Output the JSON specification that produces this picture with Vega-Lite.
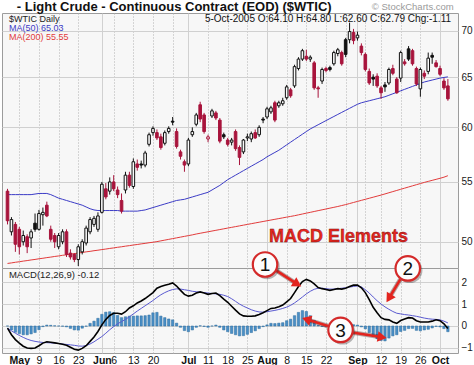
{
"$schema":"https://vega.github.io/schema/vega-lite/v6.json",
"background":"#ffffff",
"padding":{"left":1,"top":0,"right":0,"bottom":0},
"spacing":0,
"bounds":"flush",
"config":{
 "font":"Liberation Sans Narrow, Liberation Sans, sans-serif",
 "view":{"stroke":"#9c9c9c","strokeWidth":1,"fill":"#f7f7f7"},
 "axis":{"labelFont":"Liberation Sans Narrow, Liberation Sans, sans-serif","domain":false,"ticks":false,"labelColor":"#1a1a1a","gridColor":"#d0d0d0","gridWidth":1,"gridOpacity":1}
},
"datasets":{"px":[
{"t":-3,"d":"2005-04-27","o":54.2,"h":54.4,"l":51.4,"c":51.7,"m50":53.9,"m200":48.30,"macd":-0.10,"sig":-0.10,"hist":0.00},
{"t":-2,"d":"2005-04-28","o":50.8,"h":52.0,"l":50.5,"c":51.8,"m50":53.9,"m200":48.34,"macd":-0.40,"sig":-0.22,"hist":-0.18},
{"t":-1,"d":"2005-04-29","o":51.4,"h":51.6,"l":49.2,"c":49.8,"m50":53.9,"m200":48.39,"macd":-0.62,"sig":-0.33,"hist":-0.29},
{"t":0,"d":"2005-05-02","o":51.0,"h":51.2,"l":49.0,"c":49.6,"m50":53.9,"m200":48.43,"macd":-0.78,"sig":-0.43,"hist":-0.35},
{"t":1,"d":"2005-05-03","o":50.0,"h":50.9,"l":49.7,"c":50.5,"m50":53.9,"m200":48.48,"macd":-0.92,"sig":-0.52,"hist":-0.40},
{"t":2,"d":"2005-05-04","o":50.4,"h":50.6,"l":49.1,"c":49.6,"m50":53.9,"m200":48.52,"macd":-1.00,"sig":-0.60,"hist":-0.40},
{"t":3,"d":"2005-05-05","o":50.3,"h":51.0,"l":49.5,"c":50.8,"m50":53.9,"m200":48.57,"macd":-1.02,"sig":-0.66,"hist":-0.36},
{"t":4,"d":"2005-05-06","o":51.5,"h":52.3,"l":50.8,"c":51.0,"m50":53.95,"m200":48.61,"macd":-1.00,"sig":-0.70,"hist":-0.30},
{"t":5,"d":"2005-05-09","o":51.0,"h":52.6,"l":50.9,"c":52.3,"m50":54.0,"m200":48.66,"macd":-0.90,"sig":-0.73,"hist":-0.17},
{"t":6,"d":"2005-05-10","o":52.2,"h":52.8,"l":51.3,"c":52.4,"m50":54.0,"m200":48.70,"macd":-0.78,"sig":-0.75,"hist":-0.03},
{"t":7,"d":"2005-05-11","o":53.0,"h":53.3,"l":52.0,"c":52.1,"m50":54.0,"m200":48.75,"macd":-0.72,"sig":-0.76,"hist":0.04},
{"t":8,"d":"2005-05-12","o":51.0,"h":51.3,"l":50.0,"c":50.2,"m50":53.9,"m200":48.79,"macd":-0.74,"sig":-0.77,"hist":0.03},
{"t":9,"d":"2005-05-13","o":50.5,"h":50.7,"l":49.5,"c":50.0,"m50":53.75,"m200":48.84,"macd":-0.77,"sig":-0.78,"hist":0.01},
{"t":10,"d":"2005-05-16","o":49.6,"h":50.7,"l":49.4,"c":50.5,"m50":53.6,"m200":48.88,"macd":-0.80,"sig":-0.80,"hist":0.00},
{"t":11,"d":"2005-05-17","o":50.0,"h":51.0,"l":49.8,"c":50.8,"m50":53.5,"m200":48.93,"macd":-0.83,"sig":-0.82,"hist":-0.01},
{"t":12,"d":"2005-05-18","o":50.8,"h":51.0,"l":48.8,"c":49.0,"m50":53.4,"m200":48.97,"macd":-0.88,"sig":-0.84,"hist":-0.04},
{"t":13,"d":"2005-05-19","o":49.1,"h":49.4,"l":48.6,"c":48.8,"m50":53.3,"m200":49.02,"macd":-0.97,"sig":-0.86,"hist":-0.11},
{"t":14,"d":"2005-05-20","o":49.0,"h":49.1,"l":48.4,"c":48.6,"m50":53.2,"m200":49.06,"macd":-1.06,"sig":-0.88,"hist":-0.18},
{"t":15,"d":"2005-05-23","o":48.6,"h":49.8,"l":48.1,"c":49.6,"m50":53.1,"m200":49.11,"macd":-1.10,"sig":-0.91,"hist":-0.19},
{"t":16,"d":"2005-05-24","o":49.2,"h":50.2,"l":49.0,"c":50.0,"m50":53.0,"m200":49.15,"macd":-1.02,"sig":-0.92,"hist":-0.10},
{"t":17,"d":"2005-05-25","o":49.9,"h":51.3,"l":49.7,"c":51.1,"m50":52.85,"m200":49.20,"macd":-0.90,"sig":-0.89,"hist":-0.01},
{"t":18,"d":"2005-05-26","o":50.8,"h":52.0,"l":50.6,"c":51.8,"m50":52.7,"m200":49.24,"macd":-0.70,"sig":-0.82,"hist":0.12},
{"t":19,"d":"2005-05-27","o":51.4,"h":52.1,"l":51.2,"c":51.9,"m50":52.6,"m200":49.29,"macd":-0.50,"sig":-0.72,"hist":0.22},
{"t":20,"d":"2005-05-31","o":51.0,"h":52.4,"l":50.8,"c":52.1,"m50":52.55,"m200":49.33,"macd":-0.25,"sig":-0.60,"hist":0.35},
{"t":21,"d":"2005-06-01","o":52.4,"h":55.0,"l":52.3,"c":54.8,"m50":52.55,"m200":49.38,"macd":0.05,"sig":-0.48,"hist":0.53},
{"t":22,"d":"2005-06-02","o":54.4,"h":54.9,"l":53.5,"c":53.7,"m50":52.55,"m200":49.42,"macd":0.30,"sig":-0.33,"hist":0.63},
{"t":23,"d":"2005-06-03","o":54.2,"h":55.4,"l":53.9,"c":55.0,"m50":52.55,"m200":49.47,"macd":0.48,"sig":-0.17,"hist":0.65},
{"t":24,"d":"2005-06-06","o":55.0,"h":55.6,"l":54.2,"c":54.4,"m50":52.55,"m200":49.51,"macd":0.58,"sig":-0.03,"hist":0.61},
{"t":25,"d":"2005-06-07","o":54.3,"h":54.6,"l":53.6,"c":53.9,"m50":52.55,"m200":49.56,"macd":0.58,"sig":0.10,"hist":0.48},
{"t":26,"d":"2005-06-08","o":53.4,"h":54.0,"l":52.3,"c":52.5,"m50":52.5,"m200":49.60,"macd":0.54,"sig":0.20,"hist":0.38},
{"t":27,"d":"2005-06-09","o":54.3,"h":55.9,"l":54.0,"c":55.6,"m50":52.5,"m200":49.65,"macd":0.65,"sig":0.30,"hist":0.42},
{"t":28,"d":"2005-06-10","o":55.6,"h":55.9,"l":54.5,"c":54.7,"m50":52.5,"m200":49.69,"macd":0.82,"sig":0.42,"hist":0.45},
{"t":29,"d":"2005-06-13","o":54.6,"h":57.1,"l":54.4,"c":56.8,"m50":52.5,"m200":49.74,"macd":0.92,"sig":0.55,"hist":0.45},
{"t":30,"d":"2005-06-14","o":56.6,"h":57.0,"l":56.0,"c":56.3,"m50":52.5,"m200":49.78,"macd":1.05,"sig":0.68,"hist":0.46},
{"t":31,"d":"2005-06-15","o":56.6,"h":56.9,"l":56.2,"c":56.5,"m50":52.55,"m200":49.83,"macd":1.14,"sig":0.80,"hist":0.46},
{"t":32,"d":"2005-06-16","o":56.5,"h":57.8,"l":56.3,"c":57.6,"m50":52.6,"m200":49.87,"macd":1.25,"sig":0.92,"hist":0.47},
{"t":33,"d":"2005-06-17","o":58.4,"h":59.5,"l":58.2,"c":59.3,"m50":52.7,"m200":49.92,"macd":1.38,"sig":1.04,"hist":0.50},
{"t":34,"d":"2005-06-20","o":59.5,"h":60.1,"l":59.2,"c":59.9,"m50":52.8,"m200":49.96,"macd":1.52,"sig":1.16,"hist":0.60},
{"t":35,"d":"2005-06-21","o":59.5,"h":59.8,"l":58.8,"c":59.0,"m50":52.9,"m200":50.01,"macd":1.72,"sig":1.30,"hist":0.62},
{"t":36,"d":"2005-06-22","o":59.1,"h":59.4,"l":57.9,"c":58.1,"m50":53.0,"m200":50.07,"macd":1.80,"sig":1.42,"hist":0.45},
{"t":37,"d":"2005-06-23","o":58.5,"h":59.7,"l":58.3,"c":59.5,"m50":53.1,"m200":50.13,"macd":1.85,"sig":1.52,"hist":0.38},
{"t":38,"d":"2005-06-24","o":59.6,"h":60.1,"l":59.4,"c":59.9,"m50":53.2,"m200":50.19,"macd":1.90,"sig":1.60,"hist":0.32},
{"t":39,"d":"2005-06-27","o":60.6,"h":61.0,"l":60.2,"c":60.5,"m50":53.3,"m200":50.25,"macd":1.96,"sig":1.66,"hist":0.28},
{"t":40,"d":"2005-06-28","o":59.6,"h":59.9,"l":58.0,"c":58.2,"m50":53.4,"m200":50.31,"macd":1.82,"sig":1.69,"hist":0.13},
{"t":41,"d":"2005-06-29","o":57.7,"h":57.9,"l":57.0,"c":57.3,"m50":53.45,"m200":50.37,"macd":1.62,"sig":1.68,"hist":-0.06},
{"t":42,"d":"2005-06-30","o":56.8,"h":57.0,"l":55.9,"c":56.5,"m50":53.5,"m200":50.43,"macd":1.44,"sig":1.65,"hist":-0.21},
{"t":43,"d":"2005-07-01","o":56.6,"h":59.0,"l":56.4,"c":58.8,"m50":53.6,"m200":50.49,"macd":1.36,"sig":1.62,"hist":-0.26},
{"t":44,"d":"2005-07-05","o":59.3,"h":60.0,"l":59.1,"c":59.6,"m50":53.7,"m200":50.55,"macd":1.40,"sig":1.58,"hist":-0.18},
{"t":45,"d":"2005-07-06","o":60.3,"h":61.4,"l":60.1,"c":61.2,"m50":53.8,"m200":50.62,"macd":1.50,"sig":1.56,"hist":-0.06},
{"t":46,"d":"2005-07-07","o":62.2,"h":62.5,"l":60.5,"c":60.8,"m50":53.9,"m200":50.68,"macd":1.55,"sig":1.54,"hist":0.01},
{"t":47,"d":"2005-07-08","o":61.2,"h":61.4,"l":59.4,"c":59.6,"m50":54.0,"m200":50.74,"macd":1.50,"sig":1.52,"hist":-0.02},
{"t":48,"d":"2005-07-11","o":58.9,"h":59.3,"l":58.6,"c":59.1,"m50":54.1,"m200":50.80,"macd":1.44,"sig":1.50,"hist":-0.06},
{"t":49,"d":"2005-07-12","o":61.1,"h":61.8,"l":60.9,"c":61.6,"m50":54.3,"m200":50.86,"macd":1.48,"sig":1.48,"hist":0.00},
{"t":50,"d":"2005-07-13","o":61.4,"h":61.6,"l":60.7,"c":60.9,"m50":54.5,"m200":50.92,"macd":1.50,"sig":1.46,"hist":0.04},
{"t":51,"d":"2005-07-14","o":60.7,"h":60.9,"l":58.5,"c":58.7,"m50":54.7,"m200":50.98,"macd":1.38,"sig":1.44,"hist":-0.06},
{"t":52,"d":"2005-07-15","o":59.3,"h":59.5,"l":58.9,"c":59.1,"m50":54.95,"m200":51.04,"macd":1.22,"sig":1.40,"hist":-0.18},
{"t":53,"d":"2005-07-18","o":58.8,"h":59.0,"l":58.2,"c":58.4,"m50":55.2,"m200":51.10,"macd":1.08,"sig":1.34,"hist":-0.26},
{"t":54,"d":"2005-07-19","o":58.6,"h":59.0,"l":58.3,"c":58.8,"m50":55.4,"m200":51.16,"macd":0.90,"sig":1.24,"hist":-0.34},
{"t":55,"d":"2005-07-20","o":59.6,"h":59.8,"l":57.8,"c":58.0,"m50":55.6,"m200":51.22,"macd":0.72,"sig":1.12,"hist":-0.40},
{"t":56,"d":"2005-07-21","o":58.1,"h":58.3,"l":56.5,"c":57.2,"m50":55.8,"m200":51.28,"macd":0.55,"sig":1.00,"hist":-0.45},
{"t":57,"d":"2005-07-22","o":57.7,"h":58.9,"l":57.5,"c":58.8,"m50":56.0,"m200":51.34,"macd":0.46,"sig":0.90,"hist":-0.44},
{"t":58,"d":"2005-07-25","o":59.0,"h":59.4,"l":58.7,"c":59.1,"m50":56.2,"m200":51.40,"macd":0.44,"sig":0.82,"hist":-0.38},
{"t":59,"d":"2005-07-26","o":58.9,"h":59.6,"l":58.6,"c":59.4,"m50":56.4,"m200":51.46,"macd":0.44,"sig":0.74,"hist":-0.30},
{"t":60,"d":"2005-07-27","o":59.5,"h":59.8,"l":58.9,"c":59.0,"m50":56.6,"m200":51.52,"macd":0.46,"sig":0.68,"hist":-0.22},
{"t":61,"d":"2005-07-28","o":59.3,"h":60.2,"l":59.1,"c":60.0,"m50":56.8,"m200":51.58,"macd":0.52,"sig":0.64,"hist":-0.12},
{"t":62,"d":"2005-07-29","o":60.8,"h":61.0,"l":60.4,"c":60.7,"m50":57.0,"m200":51.64,"macd":0.60,"sig":0.63,"hist":-0.03},
{"t":63,"d":"2005-08-01","o":61.0,"h":62.0,"l":60.8,"c":61.8,"m50":57.25,"m200":51.70,"macd":0.70,"sig":0.65,"hist":0.05},
{"t":64,"d":"2005-08-02","o":61.5,"h":62.1,"l":61.3,"c":61.9,"m50":57.45,"m200":51.76,"macd":0.80,"sig":0.68,"hist":0.12},
{"t":65,"d":"2005-08-03","o":62.4,"h":62.6,"l":60.5,"c":60.7,"m50":57.65,"m200":51.82,"macd":0.82,"sig":0.71,"hist":0.11},
{"t":66,"d":"2005-08-04","o":62.1,"h":62.6,"l":61.9,"c":62.4,"m50":57.85,"m200":51.88,"macd":0.88,"sig":0.75,"hist":0.13},
{"t":67,"d":"2005-08-05","o":62.3,"h":62.9,"l":62.1,"c":62.6,"m50":58.1,"m200":51.94,"macd":0.95,"sig":0.80,"hist":0.15},
{"t":68,"d":"2005-08-08","o":62.9,"h":64.2,"l":62.7,"c":64.0,"m50":58.35,"m200":52.00,"macd":1.10,"sig":0.86,"hist":0.24},
{"t":69,"d":"2005-08-09","o":63.7,"h":63.9,"l":62.9,"c":63.1,"m50":58.6,"m200":52.06,"macd":1.25,"sig":0.94,"hist":0.31},
{"t":70,"d":"2005-08-10","o":64.1,"h":66.3,"l":63.9,"c":66.1,"m50":58.85,"m200":52.12,"macd":1.52,"sig":1.05,"hist":0.47},
{"t":71,"d":"2005-08-11","o":65.9,"h":67.1,"l":65.7,"c":66.9,"m50":59.1,"m200":52.19,"macd":1.80,"sig":1.18,"hist":0.62},
{"t":72,"d":"2005-08-12","o":66.9,"h":68.0,"l":66.7,"c":67.8,"m50":59.35,"m200":52.26,"macd":2.02,"sig":1.32,"hist":0.70},
{"t":73,"d":"2005-08-15","o":67.2,"h":67.9,"l":66.7,"c":66.9,"m50":59.6,"m200":52.33,"macd":2.12,"sig":1.46,"hist":0.66},
{"t":74,"d":"2005-08-16","o":66.9,"h":67.3,"l":66.6,"c":67.1,"m50":59.85,"m200":52.40,"macd":2.05,"sig":1.58,"hist":0.47},
{"t":75,"d":"2005-08-17","o":66.5,"h":66.7,"l":63.7,"c":63.9,"m50":60.05,"m200":52.47,"macd":1.92,"sig":1.67,"hist":0.25},
{"t":76,"d":"2005-08-18","o":63.9,"h":64.1,"l":62.9,"c":63.8,"m50":60.25,"m200":52.54,"macd":1.75,"sig":1.72,"hist":0.03},
{"t":77,"d":"2005-08-19","o":64.6,"h":66.0,"l":64.3,"c":65.8,"m50":60.45,"m200":52.61,"macd":1.70,"sig":1.72,"hist":-0.02},
{"t":78,"d":"2005-08-22","o":65.9,"h":66.1,"l":65.5,"c":65.7,"m50":60.65,"m200":52.68,"macd":1.66,"sig":1.70,"hist":-0.04},
{"t":79,"d":"2005-08-23","o":66.0,"h":66.2,"l":65.6,"c":65.8,"m50":60.85,"m200":52.75,"macd":1.62,"sig":1.68,"hist":-0.06},
{"t":80,"d":"2005-08-24","o":66.4,"h":67.8,"l":66.2,"c":67.6,"m50":61.05,"m200":52.82,"macd":1.66,"sig":1.68,"hist":-0.02},
{"t":81,"d":"2005-08-25","o":67.5,"h":68.1,"l":67.2,"c":67.9,"m50":61.25,"m200":52.89,"macd":1.70,"sig":1.70,"hist":0.00},
{"t":82,"d":"2005-08-26","o":67.6,"h":67.8,"l":66.2,"c":66.4,"m50":61.45,"m200":52.97,"macd":1.68,"sig":1.72,"hist":-0.04},
{"t":83,"d":"2005-08-29","o":69.0,"h":69.2,"l":67.1,"c":67.4,"m50":61.65,"m200":53.05,"macd":1.72,"sig":1.74,"hist":-0.02},
{"t":84,"d":"2005-08-30","o":69.0,"h":70.9,"l":68.6,"c":69.9,"m50":61.85,"m200":53.14,"macd":1.80,"sig":1.77,"hist":0.03},
{"t":85,"d":"2005-08-31","o":69.8,"h":70.2,"l":68.5,"c":68.9,"m50":62.05,"m200":53.23,"macd":1.86,"sig":1.80,"hist":0.06},
{"t":86,"d":"2005-09-01","o":69.2,"h":69.9,"l":68.9,"c":69.5,"m50":62.25,"m200":53.32,"macd":1.86,"sig":1.82,"hist":0.04},
{"t":87,"d":"2005-09-02","o":68.3,"h":68.6,"l":67.3,"c":67.6,"m50":62.4,"m200":53.41,"macd":1.74,"sig":1.78,"hist":-0.04},
{"t":88,"d":"2005-09-06","o":67.4,"h":67.6,"l":65.6,"c":65.8,"m50":62.5,"m200":53.50,"macd":1.52,"sig":1.65,"hist":-0.13},
{"t":89,"d":"2005-09-07","o":65.6,"h":65.9,"l":64.2,"c":64.4,"m50":62.6,"m200":53.59,"macd":1.20,"sig":1.50,"hist":-0.30},
{"t":90,"d":"2005-09-08","o":65.0,"h":65.3,"l":64.1,"c":64.8,"m50":62.7,"m200":53.68,"macd":0.85,"sig":1.32,"hist":-0.47},
{"t":91,"d":"2005-09-09","o":65.1,"h":65.4,"l":63.9,"c":64.1,"m50":62.8,"m200":53.77,"macd":0.60,"sig":1.15,"hist":-0.58},
{"t":92,"d":"2005-09-12","o":63.9,"h":64.1,"l":62.8,"c":63.4,"m50":62.9,"m200":53.86,"macd":0.38,"sig":1.00,"hist":-0.66},
{"t":93,"d":"2005-09-13","o":64.2,"h":64.5,"l":63.5,"c":64.0,"m50":63.0,"m200":53.96,"macd":0.30,"sig":0.87,"hist":-0.68},
{"t":94,"d":"2005-09-14","o":64.4,"h":66.0,"l":64.2,"c":65.8,"m50":63.15,"m200":54.06,"macd":0.28,"sig":0.76,"hist":-0.55},
{"t":95,"d":"2005-09-15","o":65.9,"h":66.3,"l":65.2,"c":65.4,"m50":63.3,"m200":54.16,"macd":0.18,"sig":0.66,"hist":-0.45},
{"t":96,"d":"2005-09-16","o":64.8,"h":65.0,"l":63.3,"c":63.4,"m50":63.45,"m200":54.26,"macd":0.12,"sig":0.58,"hist":-0.40},
{"t":97,"d":"2005-09-19","o":64.9,"h":67.8,"l":64.5,"c":67.6,"m50":63.6,"m200":54.36,"macd":0.25,"sig":0.55,"hist":-0.25},
{"t":98,"d":"2005-09-20","o":66.6,"h":66.9,"l":66.2,"c":66.4,"m50":63.75,"m200":54.46,"macd":0.32,"sig":0.52,"hist":-0.20},
{"t":99,"d":"2005-09-21","o":68.0,"h":68.3,"l":66.7,"c":66.9,"m50":63.9,"m200":54.56,"macd":0.38,"sig":0.50,"hist":-0.12},
{"t":100,"d":"2005-09-22","o":67.8,"h":68.0,"l":66.2,"c":66.4,"m50":64.05,"m200":54.66,"macd":0.36,"sig":0.47,"hist":-0.11},
{"t":101,"d":"2005-09-23","o":65.9,"h":66.1,"l":64.1,"c":64.3,"m50":64.2,"m200":54.76,"macd":0.24,"sig":0.44,"hist":-0.20},
{"t":102,"d":"2005-09-26","o":63.8,"h":66.0,"l":63.0,"c":65.8,"m50":64.35,"m200":54.86,"macd":0.18,"sig":0.40,"hist":-0.22},
{"t":103,"d":"2005-09-27","o":65.4,"h":65.7,"l":64.8,"c":65.1,"m50":64.5,"m200":54.96,"macd":0.18,"sig":0.36,"hist":-0.18},
{"t":104,"d":"2005-09-28","o":65.6,"h":67.6,"l":65.3,"c":67.0,"m50":64.6,"m200":55.05,"macd":0.18,"sig":0.33,"hist":-0.15},
{"t":105,"d":"2005-09-29","o":67.3,"h":67.6,"l":66.4,"c":67.1,"m50":64.7,"m200":55.14,"macd":0.22,"sig":0.31,"hist":-0.09},
{"t":106,"d":"2005-09-30","o":66.5,"h":66.8,"l":66.0,"c":66.1,"m50":64.8,"m200":55.23,"macd":0.28,"sig":0.30,"hist":-0.02},
{"t":107,"d":"2005-10-03","o":65.9,"h":66.2,"l":65.1,"c":65.3,"m50":64.9,"m200":55.32,"macd":0.24,"sig":0.28,"hist":-0.04},
{"t":108,"d":"2005-10-04","o":64.6,"h":64.9,"l":63.7,"c":63.9,"m50":64.97,"m200":55.42,"macd":0.10,"sig":0.22,"hist":-0.12},
{"t":109,"d":"2005-10-05","o":64.1,"h":64.8,"l":62.6,"c":62.79,"m50":65.03,"m200":55.55,"macd":-0.12,"sig":0.14,"hist":-0.26}
],
"arrows":[
{"t":65.3,"v":2.53,"t2":70.4,"v2":1.94},
{"t":96.9,"v":2.12,"t2":94.2,"v2":1.32},
{"t":78.5,"v":0.0,"t2":73.4,"v2":0.28},
{"t":84.7,"v":-0.3,"t2":91.9,"v2":-0.5}
],
"circles":[
{"t":62.5,"v":2.8,"n":"1"},
{"t":98.8,"v":2.62,"n":"2"},
{"t":81.7,"v":-0.18,"n":"3"}
]
},
"vconcat":[
{
"width":456,"height":255,
"encoding":{"x":{"field":"t","type":"quantitative","scale":{"domain":[-3.13,110.3],"nice":false,"zero":false},
 "axis":{"orient":"bottom","title":null,"labels":false,"grid":true,"values":[0,5,10,15,21,24,29,34,39,43,48,53,58,63,68,73,78,83,86,88,92,97,102,107],
  "gridDash":{"condition":{"test":"indexof([21,43,63,86,107], datum.value) >= 0","value":[1,0]},"value":[1,2]},
  "gridColor":{"condition":{"test":"indexof([21,43,63,86,107], datum.value) >= 0","value":"#c4c4c4"},"value":"#b0b0b0"}}}},
"layer":[
 {"data":{"name":"px"},"mark":{"type":"line","color":"#e23b3b","strokeWidth":1},
  "encoding":{"y":{"field":"m200","type":"quantitative","scale":{"type":"log","domain":[47.95,72],"nice":false},
   "axis":{"orient":"right","title":null,"values":[50,55,60,65,70],"labelPadding":3,"labelFontSize":10}}}},
 {"data":{"name":"px"},"mark":{"type":"line","color":"#3b3bc6","strokeWidth":1},
  "encoding":{"y":{"field":"m50","type":"quantitative","scale":{"type":"log","domain":[47.95,72],"nice":false},"axis":{"orient":"right","title":null,"values":[50,55,60,65,70],"labelPadding":3,"labelFontSize":10}}}},
 {"data":{"name":"px"},"transform":[{"window":[{"op":"lag","field":"c","as":"prev"}],"sort":[{"field":"t"}]}],
  "mark":{"type":"rule","strokeWidth":1},
  "encoding":{"y":{"field":"l","type":"quantitative","scale":{"type":"log","domain":[47.95,72],"nice":false},"axis":{"orient":"right","title":null,"values":[50,55,60,65,70],"labelPadding":3,"labelFontSize":10}},"y2":{"field":"h"},
   "color":{"condition":{"test":"datum.prev == null || datum.c < datum.prev","value":"#a8143c"},"value":"#111111"}}},
 {"data":{"name":"px"},"transform":[{"window":[{"op":"lag","field":"c","as":"prev"}],"sort":[{"field":"t"}]}],
  "mark":{"type":"bar","width":2.6,"strokeWidth":1},
  "encoding":{"y":{"field":"o","type":"quantitative","scale":{"type":"log","domain":[47.95,72],"nice":false},"axis":{"orient":"right","title":null,"values":[50,55,60,65,70],"labelPadding":3,"labelFontSize":10}},"y2":{"field":"c"},
   "fill":{"condition":[{"test":"datum.c >= datum.o","value":"#fbfbfb"},{"test":"datum.prev == null || datum.c < datum.prev","value":"#a8143c"}],"value":"#111111"},
   "stroke":{"condition":{"test":"datum.prev == null || datum.c < datum.prev","value":"#a8143c"},"value":"#111111"}}},
 {"data":{"values":[{"t":-0.65,"p":72.64}]},"mark":{"type":"text","text":"- Light Crude - Continuous Contract (EOD) ($WTIC)","align":"left","baseline":"middle","fontSize":13,"fontWeight":"bold","color":"#111111"},
  "encoding":{"y":{"field":"p","type":"quantitative","scale":{"type":"log","domain":[47.95,72],"nice":false},"axis":{"orient":"right","title":null,"values":[50,55,60,65,70],"labelPadding":3,"labelFontSize":10}}}},
 {"data":{"values":[{"t":110.5,"p":72.64}]},"mark":{"type":"text","text":"© StockCharts.com","align":"right","baseline":"middle","fontSize":9.5,"color":"#9a9a9a"},
  "encoding":{"y":{"field":"p","type":"quantitative","scale":{"type":"log","domain":[47.95,72],"nice":false},"axis":{"orient":"right","title":null,"values":[50,55,60,65,70],"labelPadding":3,"labelFontSize":10}}}},
 {"data":{"values":[{"t":-2.64,"p":71.37}]},"mark":{"type":"text","text":"$WTIC Daily","align":"left","baseline":"middle","fontSize":9,"color":"#222222"},
  "encoding":{"y":{"field":"p","type":"quantitative","scale":{"type":"log","domain":[47.95,72],"nice":false},"axis":{"orient":"right","title":null,"values":[50,55,60,65,70],"labelPadding":3,"labelFontSize":10}}}},
 {"data":{"values":[{"t":-2.64,"p":70.35}]},"mark":{"type":"text","text":"MA(50) 65.03","align":"left","baseline":"middle","fontSize":9,"color":"#3b3bc6"},
  "encoding":{"y":{"field":"p","type":"quantitative","scale":{"type":"log","domain":[47.95,72],"nice":false},"axis":{"orient":"right","title":null,"values":[50,55,60,65,70],"labelPadding":3,"labelFontSize":10}}}},
 {"data":{"values":[{"t":-2.64,"p":69.35}]},"mark":{"type":"text","text":"MA(200) 55.55","align":"left","baseline":"middle","fontSize":9,"color":"#e23b3b"},
  "encoding":{"y":{"field":"p","type":"quantitative","scale":{"type":"log","domain":[47.95,72],"nice":false},"axis":{"orient":"right","title":null,"values":[50,55,60,65,70],"labelPadding":3,"labelFontSize":10}}}},
 {"data":{"values":[{"t":109.8,"p":71.37}]},"mark":{"type":"text","text":"5-Oct-2005 O:64.10 H:64.80 L:62.60 C:62.79 Chg:-1.11","align":"right","baseline":"middle","fontSize":10,"color":"#111111"},
  "encoding":{"y":{"field":"p","type":"quantitative","scale":{"type":"log","domain":[47.95,72],"nice":false},"axis":{"orient":"right","title":null,"values":[50,55,60,65,70],"labelPadding":3,"labelFontSize":10}}}},
 {"data":{"values":[{"t":81.2,"p":50.41}]},"mark":{"type":"text","text":"MACD Elements","align":"center","baseline":"middle","fontSize":18,"fontWeight":"bold","color":"#e8261e","stroke":"#7a1010","strokeWidth":0.4},
  "encoding":{"y":{"field":"p","type":"quantitative","scale":{"type":"log","domain":[47.95,72],"nice":false},"axis":{"orient":"right","title":null,"values":[50,55,60,65,70],"labelPadding":3,"labelFontSize":10}}}}
]
},
{
"width":456,"height":85,
"encoding":{"x":{"field":"t","type":"quantitative","scale":{"domain":[-3.13,110.3],"nice":false,"zero":false},
 "axis":{"orient":"bottom","title":null,"grid":true,"labelOverlap":false,"labelFlush":false,"labelPadding":2,"labelFontSize":10.5,"labelColor":"#111111",
  "values":[0,5,10,15,21,24,29,34,39,43,48,53,58,63,68,73,78,83,86,88,92,97,102,107],
  "labelExpr":"['May','9','16','23','Jun','6','13','20','','Jul','11','18','25','Aug','8','15','22','','Sep','','12','19','26','Oct'][indexof([0,5,10,15,21,24,29,34,39,43,48,53,58,63,68,73,78,83,86,88,92,97,102,107], datum.value)]",
  "labelFontWeight":{"condition":{"test":"indexof([0,21,43,63,86,107], datum.value) >= 0","value":"bold"},"value":"normal"},
  "gridDash":{"condition":{"test":"indexof([21,43,63,86,107], datum.value) >= 0","value":[1,0]},"value":[1,2]},
  "gridColor":{"condition":{"test":"indexof([21,43,63,86,107], datum.value) >= 0","value":"#c4c4c4"},"value":"#b0b0b0"}}}},
"layer":[
 {"data":{"name":"px"},"mark":{"type":"bar","width":2.4,"color":"#4a8fc6","stroke":"#2d6c9e","strokeWidth":0.5},
  "encoding":{"y":{"field":"hist","type":"quantitative","scale":{"domain":[-1.23,2.64],"nice":false,"zero":false},
   "axis":{"orient":"right","title":null,"values":[-1,0,1,2],"labelPadding":3,"labelFontSize":10}},"y2":{"datum":0}}},
 {"data":{"name":"px"},"mark":{"type":"line","color":"#5a5ad0","strokeWidth":1},
  "encoding":{"y":{"field":"sig","type":"quantitative","scale":{"domain":[-1.23,2.64],"nice":false,"zero":false},"axis":{"orient":"right","title":null,"values":[-1,0,1,2],"labelPadding":3,"labelFontSize":10}}}},
 {"data":{"name":"px"},"mark":{"type":"line","color":"#000000","strokeWidth":1.6},
  "encoding":{"y":{"field":"macd","type":"quantitative","scale":{"domain":[-1.23,2.64],"nice":false,"zero":false},"axis":{"orient":"right","title":null,"values":[-1,0,1,2],"labelPadding":3,"labelFontSize":10}}}},
 {"data":{"values":[{"t":-2.64,"v":2.34}]},"mark":{"type":"text","text":"MACD(12,26,9) -0.12","align":"left","baseline":"middle","fontSize":9.5,"color":"#222222"},
  "encoding":{"y":{"field":"v","type":"quantitative","scale":{"domain":[-1.23,2.64],"nice":false,"zero":false},"axis":{"orient":"right","title":null,"values":[-1,0,1,2],"labelPadding":3,"labelFontSize":10}}}},
 {"data":{"name":"arrows"},"mark":{"type":"rule","color":"#3a0a0a","strokeWidth":4.6,"opacity":0.35},
  "encoding":{"y":{"field":"v","type":"quantitative","scale":{"domain":[-1.23,2.64],"nice":false,"zero":false},"axis":{"orient":"right","title":null,"values":[-1,0,1,2],"labelPadding":3,"labelFontSize":10}},"x2":{"field":"t2"},"y2":{"field":"v2"}}},
 {"data":{"name":"arrows"},"mark":{"type":"rule","color":"#e3241f","strokeWidth":2.6},
  "encoding":{"y":{"field":"v","type":"quantitative","scale":{"domain":[-1.23,2.64],"nice":false,"zero":false},"axis":{"orient":"right","title":null,"values":[-1,0,1,2],"labelPadding":3,"labelFontSize":10}},"x2":{"field":"t2"},"y2":{"field":"v2"}}},
 {"data":{"values":[{"t":70.4,"v":1.94}]},"mark":{"type":"point","shape":"triangle","filled":true,"size":110,"color":"#e3241f","opacity":1,"angle":122},
  "encoding":{"y":{"field":"v","type":"quantitative","scale":{"domain":[-1.23,2.64],"nice":false,"zero":false},"axis":{"orient":"right","title":null,"values":[-1,0,1,2],"labelPadding":3,"labelFontSize":10}}}},
 {"data":{"values":[{"t":94.2,"v":1.32}]},"mark":{"type":"point","shape":"triangle","filled":true,"size":110,"color":"#e3241f","opacity":1,"angle":212},
  "encoding":{"y":{"field":"v","type":"quantitative","scale":{"domain":[-1.23,2.64],"nice":false,"zero":false},"axis":{"orient":"right","title":null,"values":[-1,0,1,2],"labelPadding":3,"labelFontSize":10}}}},
 {"data":{"values":[{"t":73.4,"v":0.28}]},"mark":{"type":"point","shape":"triangle","filled":true,"size":110,"color":"#e3241f","opacity":1,"angle":288},
  "encoding":{"y":{"field":"v","type":"quantitative","scale":{"domain":[-1.23,2.64],"nice":false,"zero":false},"axis":{"orient":"right","title":null,"values":[-1,0,1,2],"labelPadding":3,"labelFontSize":10}}}},
 {"data":{"values":[{"t":91.9,"v":-0.5}]},"mark":{"type":"point","shape":"triangle","filled":true,"size":110,"color":"#e3241f","opacity":1,"angle":99},
  "encoding":{"y":{"field":"v","type":"quantitative","scale":{"domain":[-1.23,2.64],"nice":false,"zero":false},"axis":{"orient":"right","title":null,"values":[-1,0,1,2],"labelPadding":3,"labelFontSize":10}}}},
 {"data":{"name":"circles"},"mark":{"type":"point","shape":"circle","filled":true,"size":640,"color":"#333333","opacity":0.35,"xOffset":2,"yOffset":2},
  "encoding":{"y":{"field":"v","type":"quantitative","scale":{"domain":[-1.23,2.64],"nice":false,"zero":false},"axis":{"orient":"right","title":null,"values":[-1,0,1,2],"labelPadding":3,"labelFontSize":10}}}},
 {"data":{"name":"circles"},"mark":{"type":"point","shape":"circle","filled":true,"size":600,"fill":"#fdfdfd","stroke":"#d42a2a","strokeWidth":2.2,"opacity":1},
  "encoding":{"y":{"field":"v","type":"quantitative","scale":{"domain":[-1.23,2.64],"nice":false,"zero":false},"axis":{"orient":"right","title":null,"values":[-1,0,1,2],"labelPadding":3,"labelFontSize":10}}}},
 {"data":{"name":"circles"},"mark":{"type":"text","fontSize":19,"color":"#111111","align":"center","baseline":"middle","dy":1},
  "encoding":{"y":{"field":"v","type":"quantitative","scale":{"domain":[-1.23,2.64],"nice":false,"zero":false},"axis":{"orient":"right","title":null,"values":[-1,0,1,2],"labelPadding":3,"labelFontSize":10}},"text":{"field":"n"}}}
]
}
]
}
